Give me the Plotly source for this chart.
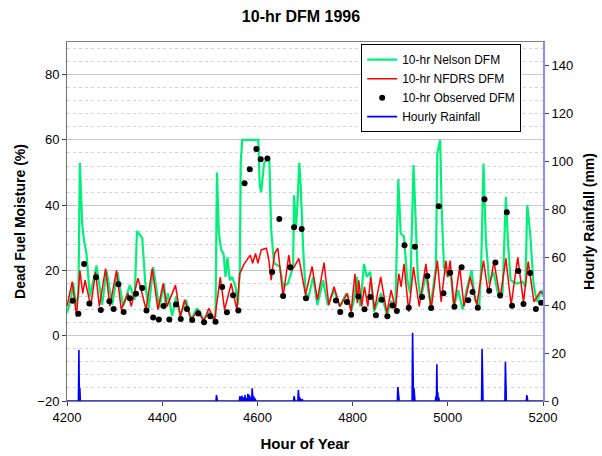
import plotly.graph_objects as go

# ---------------- data ----------------
nelson_hours = [4200, 4208, 4213, 4219, 4224, 4227, 4232, 4236, 4241, 4248, 4262, 4274, 4283, 4295,
                4306, 4318, 4332, 4342, 4347, 4358, 4365, 4372, 4381, 4394, 4404, 4407, 4412, 4421,
                4429, 4438, 4450, 4461, 4473, 4487, 4498, 4508, 4512, 4515, 4519, 4524, 4529, 4533,
                4537, 4542, 4547, 4554, 4559, 4563, 4565, 4568, 4602, 4605, 4608, 4614, 4622, 4625,
                4629, 4635, 4647, 4654, 4664, 4675, 4677, 4681, 4684, 4688, 4691, 4696, 4701, 4706,
                4717, 4726, 4738, 4748, 4761, 4773, 4787, 4797, 4803, 4809, 4816, 4824, 4830, 4837,
                4845, 4860, 4872, 4881, 4890, 4896, 4901, 4908, 4915, 4921, 4928, 4933, 4937, 4943,
                4954, 4964, 4975, 4978, 4984, 4987, 4992, 5000, 5005, 5013, 5022, 5031, 5041, 5050,
                5057, 5066, 5070, 5075, 5080, 5087, 5096, 5106, 5115, 5122, 5127, 5132, 5145, 5157,
                5163, 5167, 5173, 5180, 5187, 5197, 5200]
nelson_vals = [7, 11, 16, 9, 13, 53, 34, 29, 25, 12, 21.5, 9.5, 20, 9.5,
               19.5, 9, 15.5, 11, 32, 30, 15, 8.5, 21, 8.5, 16, 9, 13, 6,
               12, 6.3, 11, 5, 8.4, 5, 7, 5, 6, 50, 31.5, 26.3, 25, 18,
               24, 17, 18, 15, 9.5, 20, 53, 60, 60, 45.7, 44, 52.8, 54.4, 54,
               32.4, 22.2, 21.2, 15, 16, 21, 43, 33, 40, 53, 46, 27, 14, 11,
               18, 9.4, 17, 9.4, 14, 8.9, 13, 7.4, 11, 18, 9, 22, 18, 19.6,
               7.4, 13, 6.4, 10.4, 9, 48, 31.4, 30.3, 17, 13, 52.3, 31.4, 18, 11,
               19, 9, 21, 56, 60, 39.5, 21, 18, 20, 9, 14, 8, 15, 20,
               11, 9, 21, 52.8, 29.3, 16, 19.6, 12.5, 13, 42.6, 27.3, 17, 16, 16.5,
               15, 40, 31.4, 16, 10.4, 14, 12]

nfdrs_hours = [4200, 4211, 4216, 4220, 4227, 4233, 4238, 4250, 4260, 4268, 4281, 4290, 4304, 4314,
               4328, 4335, 4349, 4356, 4366, 4379, 4391, 4402, 4410, 4428, 4438, 4447, 4461, 4475,
               4487, 4498, 4510, 4522, 4531, 4545, 4557, 4563, 4571, 4585, 4590, 4596, 4601, 4608,
               4619, 4624, 4629, 4636, 4643, 4647, 4654, 4666, 4671, 4677, 4687, 4692, 4701, 4715,
               4726, 4740, 4750, 4761, 4773, 4789, 4797, 4800, 4805, 4810, 4813, 4819, 4825, 4832,
               4838, 4846, 4859, 4872, 4881, 4890, 4897, 4902, 4908, 4918, 4928, 4933, 4940, 4954,
               4965, 4978, 4986, 4996, 5000, 5005, 5013, 5025, 5034, 5047, 5061, 5075, 5085, 5097,
               5110, 5122, 5133, 5147, 5159, 5169, 5181, 5194, 5200]
nfdrs_vals = [9, 16.6, 11, 5.8, 20, 13, 17, 9, 19.6, 9, 20.6, 9, 20, 8,
              13, 9, 17.6, 14, 8, 20.6, 8, 16, 9, 15.5, 5.8, 11, 4.8, 7.9,
              4.3, 8.4, 4.8, 18, 7.9, 16, 7.9, 19, 21.7, 24.7, 22.2, 25.2, 22.2, 26.3,
              26.8, 23.2, 17, 25.2, 26.8, 21.2, 12, 24.7, 20, 21, 23.7, 20, 12.5, 21.2,
              11, 22.4, 9.4, 15, 9, 13, 7.4, 12, 19, 10, 17, 9, 15, 9,
              18, 8, 18, 7, 14, 8, 19, 15, 22, 7.4, 21, 16, 9, 22,
              8, 23, 10.4, 23, 18, 23, 9, 21, 9, 18, 9.4, 23, 13, 22.7,
              11.5, 23.7, 9.4, 24, 10.4, 22.7, 10.4, 13.5, 13]

obs_hours = [4212, 4224, 4236, 4247, 4261, 4271, 4289, 4298, 4308, 4319, 4332, 4345, 4358, 4367,
             4381, 4393, 4403, 4415, 4429, 4439, 4452, 4463, 4476, 4488, 4501, 4512, 4526, 4536,
             4549, 4560, 4573, 4584, 4598, 4607, 4621, 4631, 4646, 4654, 4669, 4677, 4693, 4702,
             4765, 4774, 4788, 4797, 4812, 4825, 4837, 4849, 4861, 4873, 4884, 4893, 4909, 4918,
             4931, 4946, 4957, 4965, 4981, 4991, 5005, 5014, 5029, 5043, 5052, 5063, 5077, 5087,
             5100, 5110, 5124, 5135, 5148, 5159, 5173, 5185, 5196]
obs_vals = [10.7, 6.7, 22, 9.9, 17.9, 7.9, 10.6, 8.2, 15.8, 7.3, 11.5, 12.9, 14.6, 7.7,
            5.6, 5.0, 9.1, 5.0, 9.6, 5.1, 8.2, 4.8, 6.8, 4.1, 6.0, 4.3, 14.9, 7.2,
            12.4, 7.7, 46.7, 51, 57.2, 54.1, 54.3, 19.5, 35.8, 12.2, 21, 33.2, 32.7, 11.5,
            10.8, 7.3, 10.3, 6.4, 12, 8.1, 11.9, 6.3, 11, 6, 9.3, 7.6, 27.7, 8.6,
            27.3, 11.9, 18.3, 8.5, 39.7, 13, 19.3, 8.9, 21, 10.9, 13.4, 8.6, 41.8, 13.8,
            22.4, 12.3, 37.8, 9.2, 19.8, 9.7, 19.2, 8.2, 10.1]

# hours with rain (all other hours of the record had 0 mm)
rain_hours = [4225, 4227, 4514, 4563, 4565, 4567, 4570, 4574, 4577, 4580, 4583, 4586, 4589, 4592,
              4595, 4677, 4686, 4689, 4694, 4895, 4896, 4926, 4929, 4975, 4977, 4979, 4981, 5072,
              5073, 5121, 5166]
rain_mm = [21.3, 5.4, 2.5, 2.0, 1.5, 2.2, 1.5, 2.5, 1.2, 3.0, 2.5, 1.5, 5.3, 2.0,
           1.0, 2.0, 4.6, 1.5, 0.8, 5.8, 4.0, 28.5, 5.3, 2.0, 15.3, 3.6, 1.5, 21.7,
           2.0, 16.4, 2.5]
record_start, record_end = 4200, 5200

x_ticks = [4200, 4400, 4600, 4800, 5000, 5200]

# ---------------- build hourly rain record ----------------
rain_lookup = dict(zip(rain_hours, rain_mm))
hourly = list(range(record_start, record_end + 1))
hourly_rain = [rain_lookup.get(h, 0.0) for h in hourly]

FONT = "Liberation Sans, Arial, sans-serif"
GREEN = "#00F07A"

fig = go.Figure()
fig.add_trace(go.Scatter(x=hourly, y=hourly_rain, mode="lines", name="Hourly Rainfall",
                         line=dict(color="#0000FF", width=1.6), yaxis="y2", legendrank=4))
fig.add_trace(go.Scatter(x=nelson_hours, y=nelson_vals, mode="lines", name="10-hr Nelson DFM",
                         line=dict(color=GREEN, width=2.2), legendrank=1))
fig.add_trace(go.Scatter(x=nfdrs_hours, y=nfdrs_vals, mode="lines", name="10-hr NFDRS DFM",
                         line=dict(color="#FF0000", width=1.5), legendrank=2))
fig.add_trace(go.Scatter(x=obs_hours, y=obs_vals, mode="markers", name="10-hr Observed DFM",
                         marker=dict(color="black", size=6, symbol="circle"), legendrank=3))

fig.update_layout(
    width=602, height=456,
    margin=dict(l=67, r=59, t=42, b=55),
    paper_bgcolor="white", plot_bgcolor="white",
    font=dict(family=FONT, size=13, color="black"),
    title=dict(text="<b>10-hr DFM 1996</b>", x=0.5, xref="container", xanchor="center",
               y=0.963, yanchor="middle", font=dict(size=16)),
    showlegend=True,
    legend=dict(x=0.618, y=0.994, xanchor="left", yanchor="top", bgcolor="white",
                bordercolor="black", borderwidth=1, font=dict(size=12),
                tracegroupgap=0, itemwidth=30),
    xaxis=dict(range=[4200, 5200], tickvals=x_ticks, ticks="outside", ticklen=4,
               showgrid=False, zeroline=False, showline=True, linecolor="#808080",
               linewidth=1, mirror=True, automargin=False,
               title=dict(text="<b>Hour of Year</b>", font=dict(size=15), standoff=14)),
    yaxis=dict(range=[-20, 90], tick0=0, dtick=20, ticks="outside", ticklen=4,
               showgrid=True, gridcolor="#C8C8C8", gridwidth=1, zeroline=False,
               showline=True, linecolor="#707070", linewidth=1, automargin=False,
               minor=dict(dtick=4, tick0=0, showgrid=True, gridcolor="#D2D2D2",
                          griddash="dot", gridwidth=1),
               title=dict(text="<b>Dead Fuel Moisture (%)</b>", font=dict(size=14), standoff=8)),
    yaxis2=dict(range=[0, 150], dtick=20, tick0=0, overlaying="y", side="right",
                ticks="outside", ticklen=4, showgrid=False, zeroline=False,
                showline=True, linecolor="#8C8CFF", linewidth=2, automargin=False,
                title=dict(text="<b>Hourly Rainfall (mm)</b>", font=dict(size=14), standoff=12)),
)

fig.write_html("out.html")
